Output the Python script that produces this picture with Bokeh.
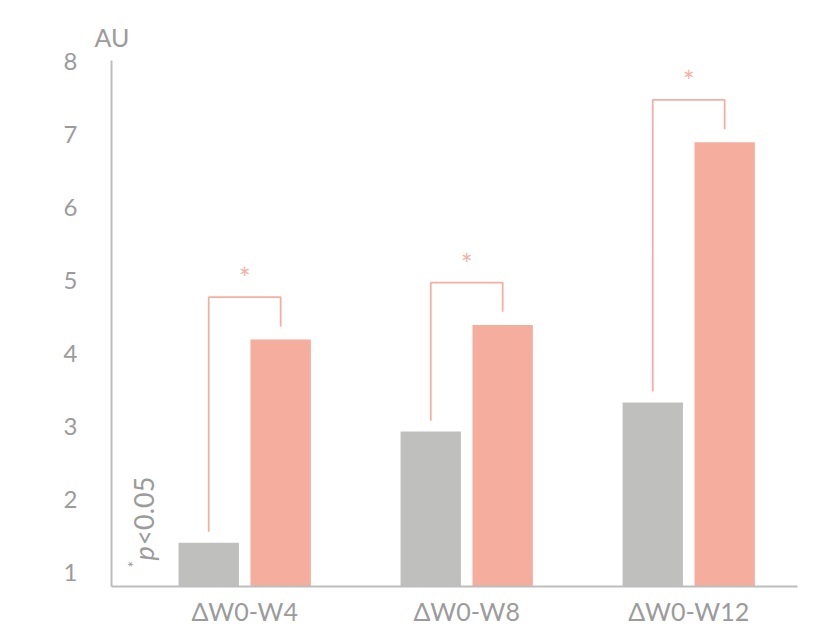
import math
from bokeh.plotting import figure
from bokeh.models import FixedTicker, Label, ColumnDataSource
from bokeh.transform import dodge
from bokeh.core.properties import value
from bokeh.embed import file_html
from bokeh.resources import INLINE

# ---- data ----
categories = ["ΔW0-W4", "ΔW0-W8", "ΔW0-W12"]
grey_vals = [1.41, 2.93, 3.33]
pink_vals = [4.19, 4.39, 6.89]
y_ticks = [1, 2, 3, 4, 5, 6, 7, 8]
sig_marks = ["*", "*", "*"]

FONT = "Lato"
GREY = "#BFBFBD"
PINK = "#F5AD9D"
LINE_PINK = "#F3B0A2"
TEXT = "#9B9B9B"
AXIS = "#BDBDBD"

xs = list(range(len(categories)))
off = 0.162
bw = 0.272

p = figure(frame_width=686, frame_height=526, output_backend="svg", toolbar_location=None,
           x_range=(-0.6, 2.49), y_range=(0.81, 8.01),
           min_border_left=111, min_border_right=30, min_border_top=60, min_border_bottom=36)

src = ColumnDataSource(dict(x=xs, g=grey_vals, pk=pink_vals))
p.vbar(x=dodge("x", -off, range=p.x_range), top="g", bottom=0, width=bw, source=src,
       fill_color=GREY, line_color=None)
p.vbar(x=dodge("x", off, range=p.x_range), top="pk", bottom=0, width=bw, source=src,
       fill_color=PINK, line_color=None)

# significance brackets
bx, by, sx, sy = [], [], [], []
for i, (g, pk) in enumerate(zip(grey_vals, pink_vals)):
    top = pk + 0.58
    bx.append([i - off, i - off, i + off, i + off])
    by.append([g + 0.15, top, top, pk + 0.18])
    sx.append(i)
    sy.append(top + 0.26)
p.multi_line(bx, by, line_color=LINE_PINK, line_width=1.8)
p.text(sx, sy, text=sig_marks, text_align="center", text_baseline="middle",
       text_color=LINE_PINK, text_font=value(FONT), text_font_size="28px")

# axes
p.xaxis.ticker = FixedTicker(ticks=xs)
p.xaxis.major_label_overrides = {i: c for i, c in enumerate(categories)}
p.yaxis.ticker = FixedTicker(ticks=y_ticks)
for ax in (p.xaxis[0], p.yaxis[0]):
    ax.axis_line_color = AXIS
    ax.axis_line_width = 2
    ax.major_tick_line_color = None
    ax.minor_tick_line_color = None
    ax.major_tick_out = 0
    ax.major_tick_in = 0
    ax.minor_tick_out = 0
    ax.major_label_text_color = TEXT
    ax.major_label_text_font = FONT
p.yaxis.major_label_text_font_size = "24px"
p.xaxis.major_label_text_font_size = "25px"
p.yaxis.major_label_standoff = 34
p.xaxis.major_label_standoff = 9

p.xgrid.grid_line_color = None
p.ygrid.grid_line_color = None
p.outline_line_color = None

# AU label as title
p.title.text = "AU"
p.title.align = "left"
p.title.offset = -17
p.title.standoff = 17
p.title.text_color = TEXT
p.title.text_font = FONT
p.title.text_font_size = "25px"
p.title.text_font_style = "normal"

# *p<0.05 rotated note
ang = math.pi / 2
nx = -0.456
ny = 1.0
p.add_layout(Label(x=nx, y=ny, x_offset=-10, y_offset=5, angle=ang, text="*", text_align="left",
                   text_baseline="middle", text_color=TEXT, text_font=FONT, text_font_size="15px"))
p.add_layout(Label(x=nx, y=ny, x_offset=0, y_offset=12, angle=ang, text="p", text_align="left",
                   text_baseline="middle", text_color=TEXT, text_font=FONT, text_font_size="27px",
                   text_font_style="italic"))
p.add_layout(Label(x=nx, y=ny, x_offset=0, y_offset=27, angle=ang, text="<0.05", text_align="left",
                   text_baseline="middle", text_color=TEXT, text_font=FONT, text_font_size="27px"))

open("out.html", "w").write(file_html(p, INLINE))
